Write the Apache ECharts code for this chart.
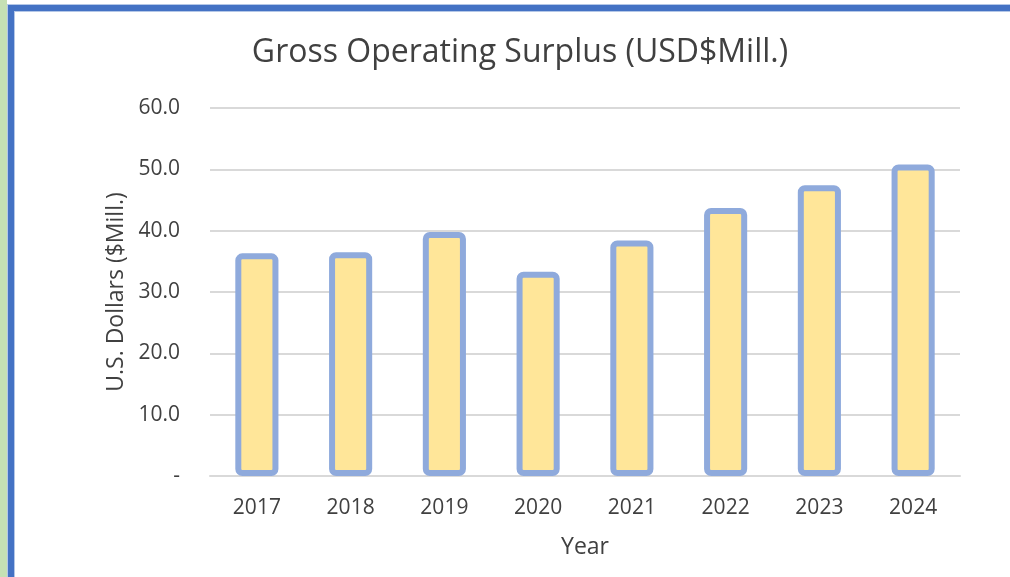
<!DOCTYPE html>
<html>
<head>
<meta charset="utf-8">
<script src="https://cdn.jsdelivr.net/npm/echarts@6/dist/echarts.min.js"></script>
<style>
html,body{margin:0;padding:0;background:#fff;}
#chart{position:absolute;left:0;top:0;width:1010px;height:577px;}
.ov{position:absolute;pointer-events:none;}
</style>
</head>
<body>
<div id="chart"></div>
<div class="ov" style="left:0;top:0;width:7px;height:577px;background:#c5e0b4;"></div>
<div class="ov" style="left:7px;top:4px;width:8px;height:573px;background:#b4c7e7;"></div>
<div class="ov" style="left:7px;top:4px;width:1003px;height:8px;background:#b4c7e7;"></div>
<div class="ov" style="left:8px;top:5px;width:6px;height:572px;background:#4472c4;"></div>
<div class="ov" style="left:8px;top:5px;width:1002px;height:6px;background:#4472c4;"></div>
<script>
var categories = ['2017','2018','2019','2020','2021','2022','2023','2024'];
var values = [36.3, 36.5, 39.8, 33.3, 38.4, 43.7, 47.4, 50.8];
var yTicks = [0, 10, 20, 30, 40, 50, 60];

var chart = echarts.init(document.getElementById('chart'));
var font = '"Open Sans", sans-serif';
chart.setOption({
  animation: false,
  title: {
    text: 'Gross Operating Surplus (USD$Mill.)',
    left: 515, top: 32, textAlign: 'center',
    textStyle: {fontFamily: font, fontSize: 32, fontWeight: 'normal', color: '#404040'}
  },
  grid: {left: 210, right: 50, top: 108, bottom: 101},
  xAxis: {
    type: 'category', data: categories,
    name: 'Year', nameLocation: 'middle', nameGap: 60,
    nameTextStyle: {fontFamily: font, fontSize: 23, color: '#404040'},
    axisLine: {lineStyle: {color: '#d9d9d9', width: 2}},
    axisTick: {show: false},
    axisLabel: {fontFamily: font, fontSize: 21, color: '#404040', margin: 22}
  },
  yAxis: {
    type: 'value', min: yTicks[0], max: yTicks[yTicks.length - 1], interval: 10,
    name: 'U.S. Dollars ($Mill.)', nameLocation: 'middle', nameGap: 81,
    nameTextStyle: {fontFamily: font, fontSize: 23, color: '#404040'},
    axisLine: {show: false}, axisTick: {show: false},
    splitLine: {lineStyle: {color: '#d9d9d9', width: 2}},
    axisLabel: {
      fontFamily: font, fontSize: 21, color: '#404040', margin: 30,
      formatter: function (v) { return v === 0 ? '-' : v.toFixed(1); }
    }
  },
  series: [{
    type: 'bar', data: values, barWidth: '46%',
    itemStyle: {color: '#ffe699', borderColor: '#8faadc', borderWidth: 6, borderRadius: 4}
  }]
});
</script>
</body>
</html>
